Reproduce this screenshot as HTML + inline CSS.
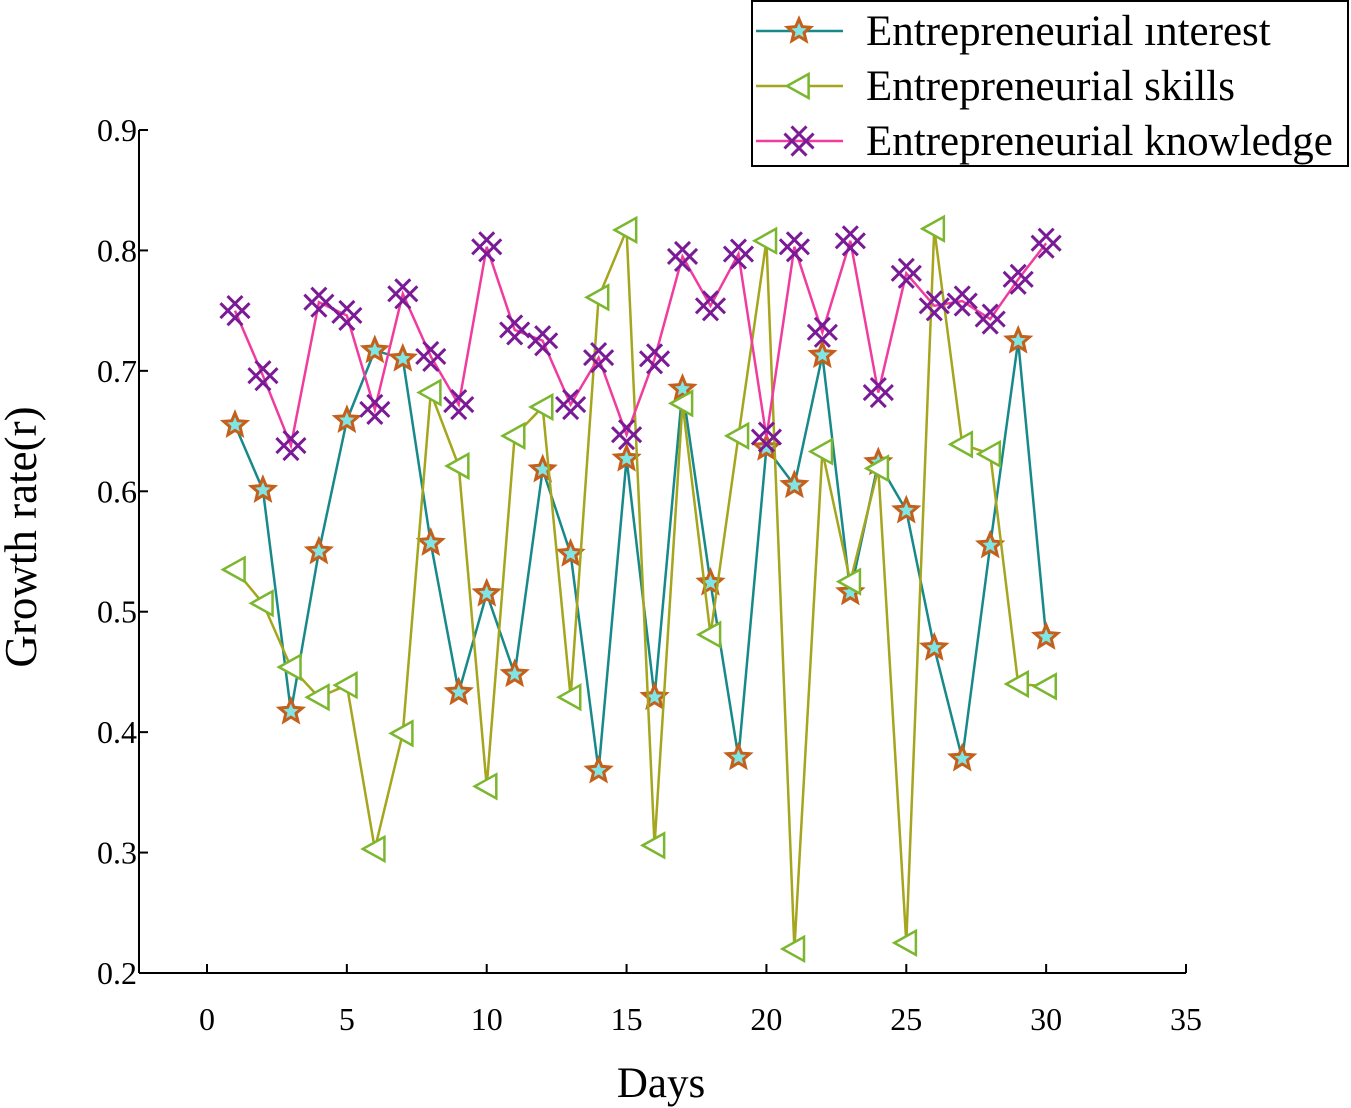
<!DOCTYPE html>
<html><head><meta charset="utf-8"><style>
html,body{margin:0;padding:0;background:#fff;}
svg{display:block;font-family:"Liberation Serif",serif;}
</style></head><body>
<svg id="chart" width="1351" height="1108" viewBox="0 0 1351 1108" xmlns="http://www.w3.org/2000/svg">
<g id="axes"></g><g id="series"></g><g id="legend"></g>
</svg>
<script>
const days = [1,2,3,4,5,6,7,8,9,10,11,12,13,14,15,16,17,18,19,20,21,22,23,24,25,26,27,28,29,30];
const interest = [0.655,0.601,0.417,0.550,0.659,0.717,0.710,0.557,0.433,0.515,0.448,0.618,0.548,0.368,0.627,0.429,0.685,0.524,0.379,0.636,0.605,0.713,0.516,0.624,0.584,0.470,0.378,0.555,0.725,0.479];
const skills = [0.535,0.507,0.454,0.429,0.439,0.303,0.399,0.682,0.621,0.355,0.646,0.670,0.429,0.761,0.817,0.306,0.673,0.481,0.646,0.808,0.220,0.633,0.525,0.619,0.225,0.818,0.639,0.631,0.440,0.438];
const knowledge = [0.750,0.696,0.638,0.757,0.746,0.668,0.764,0.712,0.672,0.803,0.734,0.725,0.672,0.711,0.647,0.710,0.795,0.754,0.797,0.645,0.803,0.732,0.808,0.682,0.781,0.754,0.758,0.743,0.776,0.806];
const xTicks = [0,5,10,15,20,25,30,35];
const yTicks = [0.2,0.3,0.4,0.5,0.6,0.7,0.8,0.9];
const seriesNames = ["Entrepreneurial ınterest","Entrepreneurial skills","Entrepreneurial knowledge"];

const NS="http://www.w3.org/2000/svg";
const X0=139,X1=1186,Y0=973,Y1=130;
const yMin=0.2,yMax=0.9;
const xs=v=>207+(v-0)*(1186-207)/35;
const ys=v=>Y0-(v-yMin)*(Y0-Y1)/(yMax-yMin);
function mk(tag,attrs,parent){const e=document.createElementNS(NS,tag);for(const k in attrs)e.setAttribute(k,attrs[k]);parent.appendChild(e);return e;}
const axes=document.getElementById('axes'),ser=document.getElementById('series'),leg=document.getElementById('legend');

const xa=mk('line',{x1:X0,y1:Y0,x2:X1,y2:Y0,stroke:'#000','stroke-width':2},axes);


const ya=mk('line',{x1:X0,y1:Y0,x2:X0,y2:Y1,stroke:'#000','stroke-width':2},axes);


xTicks.forEach(t=>{
  mk('line',{x1:xs(t),y1:Y0,x2:xs(t),y2:Y0-9,stroke:'#000','stroke-width':2},axes);
  const tx=mk('text',{x:xs(t),y:Y0+57,'text-anchor':'middle','font-size':32},axes);
  tx.textContent=t;
  
  
});
yTicks.forEach(t=>{
  mk('line',{x1:X0,y1:ys(t),x2:X0+9,y2:ys(t),stroke:'#000','stroke-width':2},axes);
  const tx=mk('text',{x:X0-2,y:ys(t)+11,'text-anchor':'end','font-size':32},axes);
  tx.textContent=t.toFixed(1);
  
  
});
const xt=mk('text',{x:661,y:1097,'text-anchor':'middle','font-size':43},axes);
xt.textContent='Days';


const yt=mk('text',{x:0,y:0,'text-anchor':'middle','font-size':45,transform:'translate(36,537) rotate(-90)'},axes);
yt.textContent='Growth rate(r)';



function star(x,y,r,parent){let p=[];for(let i=0;i<10;i++){const a=-Math.PI/2+i*Math.PI/5;const rr=i%2?r*0.45:r;p.push((x+rr*Math.cos(a)).toFixed(1)+','+(y+rr*Math.sin(a)).toFixed(1));}
  return mk('polygon',{points:p.join(' '),fill:'#7fe6e6',stroke:'#c45f1c','stroke-width':3},parent);}
function tri(x,y,r,parent){return mk('polygon',{points:`${x-r},${y} ${x+r*0.8},${y-r} ${x+r*0.8},${y+r}`,fill:'#fff',stroke:'#7ab62e','stroke-width':2.5},parent);}
function xx(x,y,r,parent){const g=mk('g',{stroke:'#7a1a96','stroke-width':3,fill:'none'},parent);const o=r*0.32;
  [-o,o].forEach(s=>{
    mk('line',{x1:x-r+s,y1:y-r-s,x2:x+r+s,y2:y+r-s},g);
    mk('line',{x1:x-r+s,y1:y+r+s,x2:x+r+s,y2:y-r+s},g);
  });
  return g;}
const defs=[
 {data:interest,color:'#17898a',m:star,name:'interest'},
 {data:skills,color:'#a5a51e',m:tri,name:'skills'},
 {data:knowledge,color:'#f03c9e',m:xx,name:'knowledge'}];
defs.forEach(s=>{
  const g=mk('g',{},ser);
  
  
  const pl=mk('polyline',{points:s.data.map((v,i)=>xs(days[i])+','+ys(v)).join(' '),fill:'none',stroke:s.color,'stroke-width':2.5},g);
  
  
  s.data.forEach((v,i)=>{const m=s.m(xs(days[i]),ys(v),s.name==='knowledge'?11:12,g);
    
    });
});
const box=mk('rect',{x:752,y:1,width:596,height:165,fill:'#fff',stroke:'#000','stroke-width':2},leg);


defs.forEach((s,i)=>{
  const y=31+i*55;
  const g=mk('g',{},leg);
  
  
  mk('line',{x1:756,y1:y,x2:843,y2:y,stroke:s.color,'stroke-width':2.5},g);
  s.m(799,y,s.name==='knowledge'?11:12,g);
  const t=mk('text',{x:866,y:y+14,'font-size':43},g);
  t.textContent=seriesNames[i];
});
</script>
</body></html>
